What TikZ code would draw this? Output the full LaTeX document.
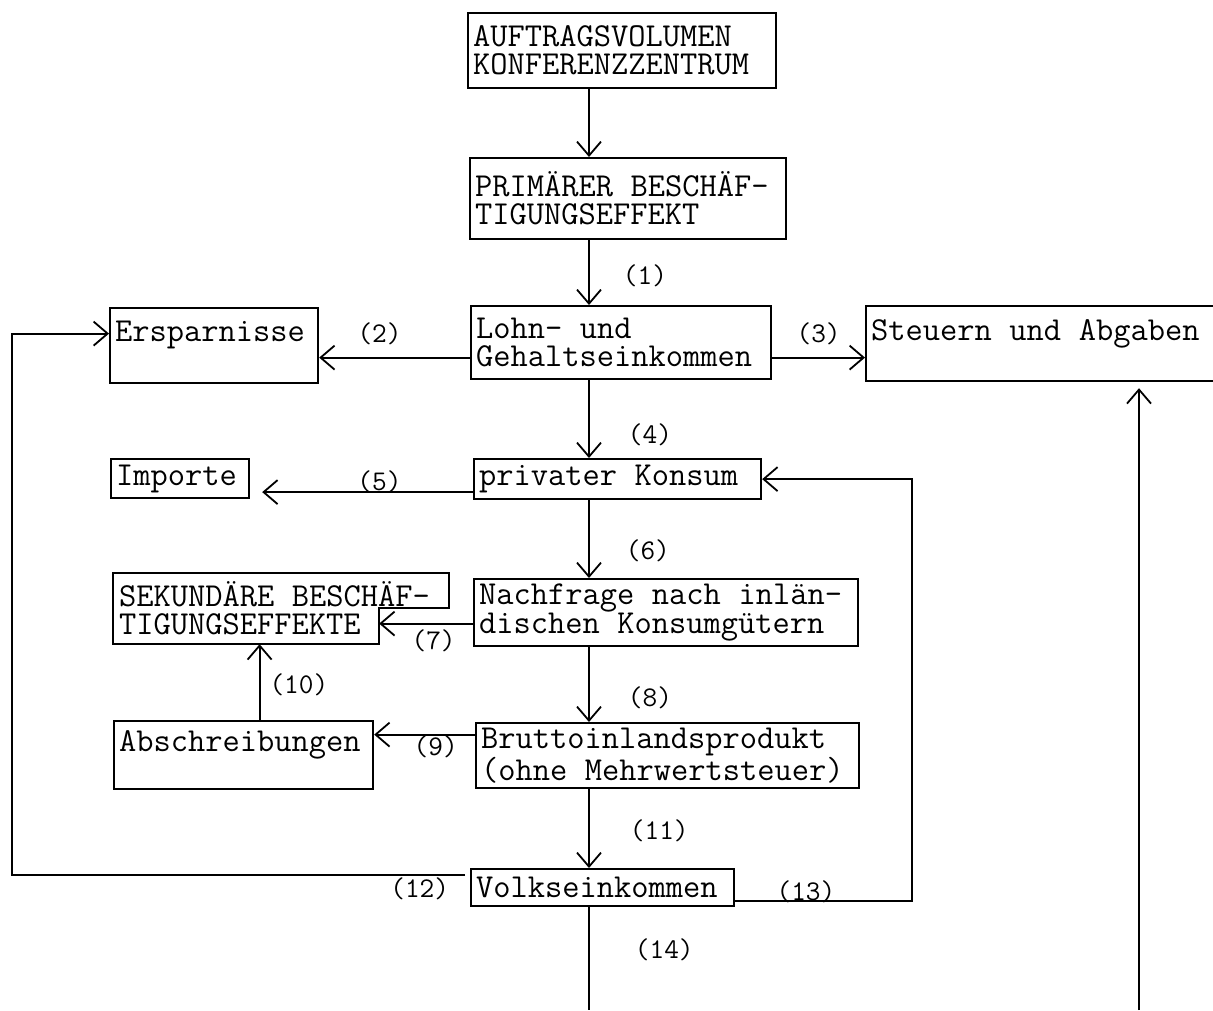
\documentclass[tikz,border=0pt]{standalone}
\usepackage{fontspec}
\usepackage{tikz}
\usetikzlibrary{arrows.meta, calc}
\newcommand\schreibmaschine[1]{\ttfamily\addfontfeatures{FakeBold=2}\fontsize{#1}{28}\selectfont\spaceskip=0.525em\relax}

\begin{document}
\begin{tikzpicture}[x=1pt, y=-1pt,
    every node/.style={font=\schreibmaschine{33.5}},
    rahmen/.style={line width=2.2pt},
    kasten/.style={rectangle, draw, rahmen, anchor=north west,
      inner xsep=5pt, inner ysep=2pt, align=flush left},
    marke/.style={inner sep=0pt, font=\schreibmaschine{28.5}},
    pfeil/.style={-{Straight Barb[length=14pt,width=24pt]}, line width=1.8pt}]
  \useasboundingbox (0,0) rectangle (1213,1010);

  % Kaesten
  \node[kasten, text width=298pt, minimum height=75pt] (auftrag) at (467,12) {AUFTRAGSVOLUMEN\\KONFERENZZENTRUM};
  \node[kasten, text width=306pt, minimum height=81pt] (primaer) at (469,157) {PRIMÄRER BESCHÄF-\\TIGUNGSEFFEKT};
  \node[kasten, text width=290pt, minimum height=73pt] (lohn) at (470,305) {Lohn- und\\Gehaltseinkommen};
  \node[kasten, text width=198pt, minimum height=75pt] (erspar) at (109,307) {Ersparnisse\\\mbox{}};
  \node[kasten, text width=370pt, minimum height=75pt] (steuer) at (865,305) {Steuern und Abgaben\\\mbox{}};
  \node[kasten, text width=277pt, minimum height=40pt] (konsum) at (473,458) {privater Konsum};
  \node[kasten, text width=128pt, minimum height=39pt] (importe) at (110,458) {Importe};
  \node[kasten, text width=374pt, minimum height=67pt] (nachfrage) at (473,578) {Nachfrage nach inlän-\\dischen Konsumgütern};
  \node[kasten, draw=none, text width=324pt, minimum height=69pt] (sekundaer) at (113,573) {SEKUNDÄRE BESCHÄF-\\TIGUNGSEFFEKTE};
  \node[kasten, text width=249pt, minimum height=68pt] (abschr) at (113,720) {Abschreibungen\\\mbox{}};
  \node[kasten, text width=373pt, minimum height=65pt] (brutto) at (475,722) {Bruttoinlandsprodukt\\(ohne Mehrwertsteuer)};
  \node[kasten, text width=253pt, minimum height=37pt] (volk) at (470,868) {Volkseinkommen};

  % Rahmen mit Kerbe
  \coordinate (kerbe) at ([xshift=-70pt]sekundaer.south east);
  \draw[rahmen] (sekundaer.north west) -- (sekundaer.north east) -- ++(0,35) -| (kerbe) -- (sekundaer.south west) -- cycle;

  \coordinate (achse) at (589,0);
  \coordinate (links) at (12,0);
  \coordinate (rechts) at (912,0);
  \coordinate (aussen) at (1139,0);
  \coordinate (unten) at (0,1010);

  % Hauptachse
  \draw[pfeil] (achse |- auftrag.south) -- (achse |- primaer.north);
  \draw[pfeil] (achse |- primaer.south) -- node[marke, right=33pt, pos=0.55] (n1) {(1)} (achse |- lohn.north);
  \draw[pfeil] (achse |- lohn.south) -- node[marke, right=38pt, pos=0.7] (n4) {(4)} (achse |- konsum.north);
  \draw[pfeil] (achse |- konsum.south) -- node[marke, right=36pt, pos=0.65] (n6) {(6)} (achse |- nachfrage.north);
  \draw[pfeil] (achse |- nachfrage.south) -- node[marke, right=38pt, pos=0.68] (n8) {(8)} (achse |- brutto.north);
  \draw[pfeil] (achse |- brutto.south) -- node[marke, right=40pt, pos=0.53] (n11) {(11)} (achse |- volk.north);
  \draw[line width=1.8pt] (achse |- volk.south) -- node[marke, right=45pt, pos=0.41] (n14) {(14)} (achse |- unten);

  % Abzweigungen
  \coordinate (a2) at ([yshift=-15pt]lohn.west);
  \coordinate (a3) at ([yshift=-15pt]lohn.east);
  \draw[pfeil] (a2) -- node[marke, above=12pt, pos=0.6] (n2) {(2)} (a2 -| erspar.east);
  \draw[pfeil] (a3) -- node[marke, above=12pt] (n3) {(3)} (a3 -| steuer.west);

  \coordinate (a5) at ([yshift=-13pt]konsum.west);
  \draw[pfeil, shorten >=12pt] (a5) -- node[marke, above=-2pt, pos=0.42] (n5) {(5)} (a5 -| importe.east);

  \coordinate (a7) at ([yshift=-11pt]nachfrage.west);
  \draw[pfeil] (a7) -- node[marke, below=5pt, pos=0.42] (n7) {(7)} (a7 -| kerbe);

  \coordinate (a9) at ([yshift=21pt]brutto.west);
  \draw[pfeil] (a9) -- node[marke, below=0pt, pos=0.39] (n9) {(9)} (a9 -| abschr.east);

  \coordinate (a10) at ([xshift=16pt]abschr.north);
  \draw[pfeil] (a10) -- node[marke, right=9pt, pos=0.47] (n10) {(10)} (a10 |- sekundaer.south);

  % Rueckfluesse
  \coordinate (a12) at ([xshift=-5pt, yshift=13pt]volk.west);
  \coordinate (e12) at ([yshift=12pt]erspar.west);
  \draw[pfeil] (a12) -- node[marke, below=2pt, pos=0.1] (n12) {(12)} (a12 -| links) -- (links |- e12) -- (e12);

  \coordinate (a13) at ([yshift=-13pt]volk.east);
  \draw[pfeil] (a13) -- node[marke, above=-3pt, pos=0.4] (n13) {(13)} (a13 -| rechts) -- (rechts |- konsum.east) -- (konsum.east);

  \draw[pfeil, shorten >=6pt] (aussen |- unten) -- (aussen |- steuer.south);
\end{tikzpicture}
\end{document}
